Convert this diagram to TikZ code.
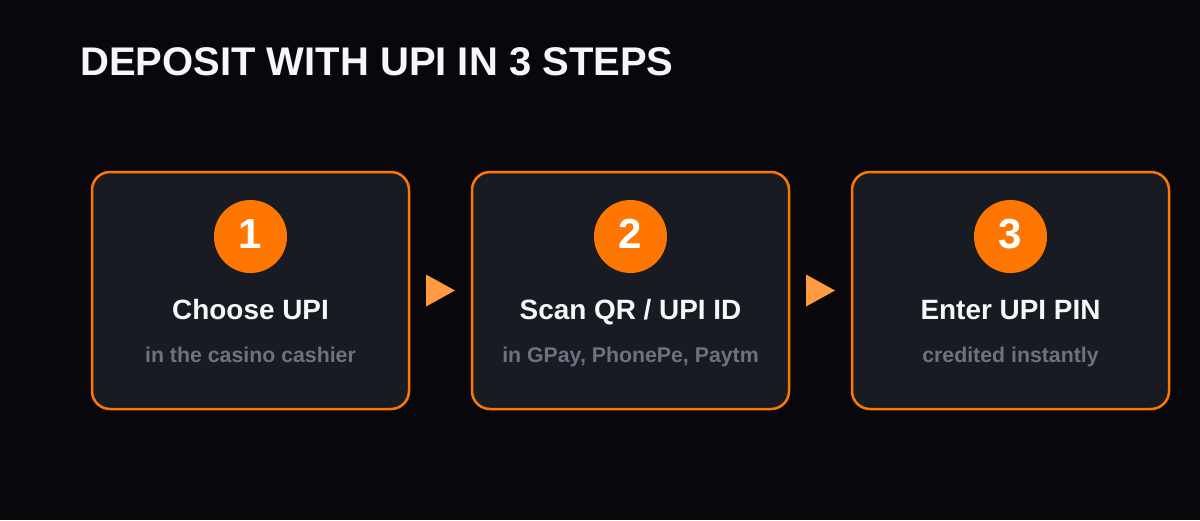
\documentclass[tikz,border=0pt]{standalone}
\usepackage{fontspec}
\setmainfont{Liberation Sans}
\usetikzlibrary{calc}
\definecolor{bg}{HTML}{08080C}
\definecolor{card}{HTML}{181B22}
\definecolor{accent}{HTML}{FF7700}
\definecolor{arrowc}{HTML}{FF9A40}
\definecolor{subgray}{HTML}{6B7280}
\definecolor{titlew}{HTML}{F5F7FA}
\tikzset{
  card/.style={draw=accent, line width=2.5pt, fill=card, rounded corners=18pt,
    minimum width=317pt, minimum height=237pt, inner sep=0pt},
  badge/.style={circle, fill=accent, minimum size=73pt, inner sep=0pt},
  numtext/.style={anchor=base, text=white, font=\fontsize{42}{42}\selectfont\bfseries, inner sep=0pt},
  headtext/.style={anchor=base, text=titlew, font=\fontsize{27.9}{30}\selectfont\bfseries, inner sep=0pt},
  subtext/.style={anchor=base, text=subgray, font=\fontsize{21.3}{24}\selectfont\bfseries, inner sep=0pt},
  maintitle/.style={anchor=base west, text=titlew, font=\fontsize{40}{44}\selectfont\bfseries, inner sep=0pt},
  marker/.style={fill=arrowc},
}
\begin{document}
\begin{tikzpicture}[x=1pt,y=-1pt]
\fill[bg] (0,0) rectangle (1200,520);
\useasboundingbox (0,0) rectangle (1200,520);
\node[maintitle] (title) at (80,75) {DEPOSIT WITH UPI IN 3 STEPS};
\foreach \i/\cx/\h/\s in {1/250.5/{Choose UPI}/{in the casino cashier},
                          2/630.5/{Scan QR / UPI ID}/{in GPay, PhonePe, Paytm},
                          3/1010.5/{Enter UPI PIN}/{credited instantly}}{
  \node[card] (b\i) at (\cx,290.5) {};
  \node[badge] (c\i) at (\cx,236.5) {};
  \node[numtext] (n\i) at (\cx,248) {\i};
  \node[headtext] (h\i) at (\cx,319) {\h};
  \node[subtext] (s\i) at (\cx,362) {\s};
}
\fill[marker] ($(b1.east)!0.5!(b2.west)$) ++(-14.5,-16) -- ++(29,16) -- ++(-29,16) -- cycle;
\fill[marker] ($(b2.east)!0.5!(b3.west)$) ++(-14.5,-16) -- ++(29,16) -- ++(-29,16) -- cycle;
\end{tikzpicture}
\end{document}
